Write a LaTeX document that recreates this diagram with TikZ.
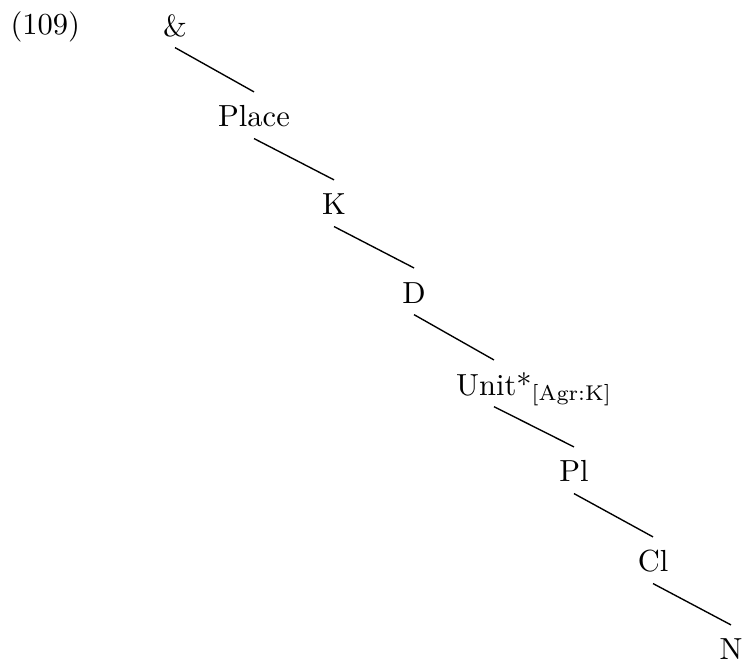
\documentclass[tikz,border=0pt]{standalone}
\usepackage{amsmath}
\usepackage{tikz}

\begin{document}
\begin{tikzpicture}[
    cat/.style={inner sep=0pt, text height=6.9pt, text depth=0pt, anchor=base},
    branch/.style={line width=0.45pt}
  ]
  % Page frame
  \useasboundingbox (0,0) rectangle (8.562,-7.651);
  % Example number
  \node[inner sep=0pt, anchor=base west] (exno) at (0.115,-0.392) {(109)};
  % Spine of categories
  \node[cat] (amp) at (2.017,-0.415) {\&};
  \node[cat] (place) at (2.927,-1.463) {Place};
  \node[cat] (k) at (3.849,-2.477) {K};
  \node[cat] (d) at (4.771,-3.492) {D};
  \node[cat] (unit) at (5.692,-4.552) {Unit*\rlap{\textsubscript{[Agr:K]}}};
  \node[cat] (pl) at (6.614,-5.554) {Pl};
  \node[cat] (cl) at (7.525,-6.591) {Cl};
  \node[cat] (n) at (8.423,-7.605) {N};
  % Branches (gap below mother, gap above daughter)
  \draw[branch] ([yshift=-3.6pt]amp.south) -- ([yshift=4.4pt]place.north);
  \draw[branch] ([yshift=-3.6pt]place.south) -- ([yshift=4.4pt]k.north);
  \draw[branch] ([yshift=-3.6pt]k.south) -- ([yshift=4.4pt]d.north);
  \draw[branch] ([yshift=-3.6pt]d.south) -- ([yshift=4.4pt]unit.north);
  \draw[branch] ([yshift=-3.6pt]unit.south) -- ([yshift=4.4pt]pl.north);
  \draw[branch] ([yshift=-3.6pt]pl.south) -- ([yshift=4.4pt]cl.north);
  \draw[branch] ([yshift=-3.6pt]cl.south) -- ([yshift=4.4pt]n.north);
\end{tikzpicture}
\end{document}
